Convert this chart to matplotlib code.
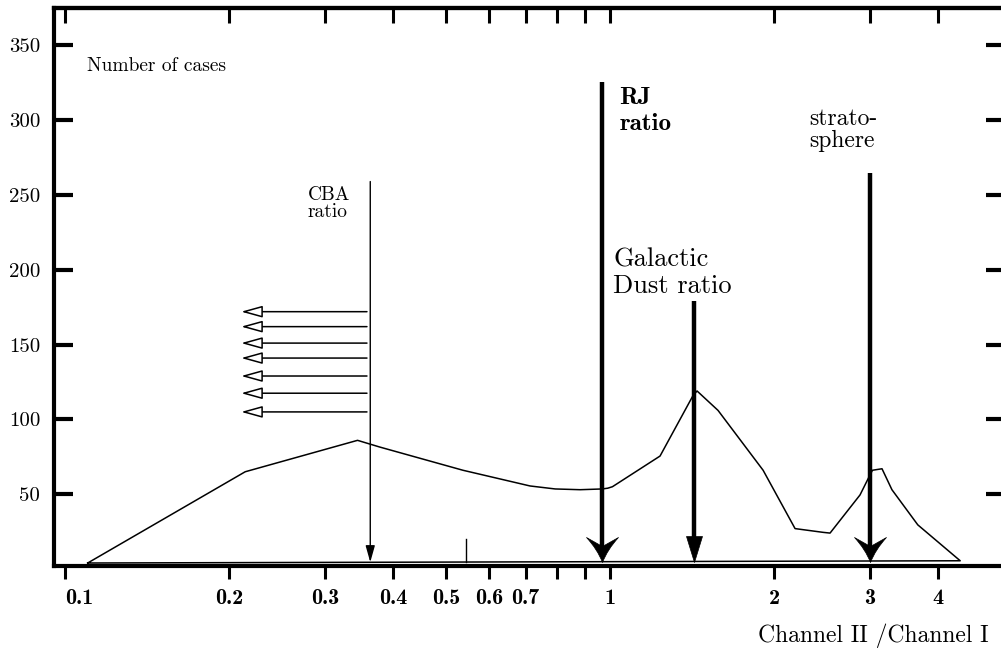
import matplotlib
matplotlib.use("Agg")
import matplotlib.pyplot as plt
from matplotlib.path import Path
from matplotlib.ticker import NullLocator

# Histogram of channel ratios (number of cases vs Channel II / Channel I)
ratio = [0.110, 0.214, 0.344, 0.378, 0.537, 0.713, 0.793, 0.881, 0.967, 0.99,
         1.01, 1.235, 1.42, 1.444, 1.578, 1.909, 2.185, 2.459, 2.533, 2.875,
         3.0, 3.03, 3.155, 3.29, 3.67, 4.39, 0.110]
cases = [4, 65, 86, 81.5, 66, 55.5, 53.5, 53, 53.5, 54,
         55, 75.5, 116, 119, 106, 66, 27, 24.5, 24, 49.5,
         63, 66, 67, 53, 29.5, 5.5, 4]

x_ticks = [0.1, 0.2, 0.3, 0.4, 0.5, 0.6, 0.7, 0.8, 0.9, 1, 2, 3, 4]
x_labels = ["0.1", "0.2", "0.3", "0.4", "0.5", "0.6", "0.7", "", "", "1", "2", "3", "4"]
y_ticks = [50, 100, 150, 200, 250, 300, 350]

# reference ratios marked with arrows: (x, top, tip)
cba = (0.363, 259, 4.5)
rj = (0.967, 325.5, 4.7)
galactic = (1.426, 179, 4.7)
strato = (3.0, 265, 5.0)

# CBA spread arrows pointing to lower ratios
spread_levels = [105, 117.5, 129, 141, 151, 162, 172]
spread_from, spread_to = 0.358, 0.2104

marker_x, marker_top, marker_bottom = 0.544, 20, 4.7

plt.rcParams["font.family"] = "cmr10"

fig = plt.figure(figsize=(10.01, 6.52), dpi=100)
ax = fig.add_axes([54 / 1001, 86 / 652, 951 / 1001, 558 / 652])

ax.plot(ratio, cases, color="black", lw=1.1)
ax.plot([marker_x, marker_x], [marker_bottom, marker_top], color="black", lw=1)

# thin CBA arrow
ax.annotate("", xy=(cba[0], cba[2]), xytext=(cba[0], cba[1]),
            arrowprops=dict(arrowstyle="-|>,head_length=1.0,head_width=0.28",
                            color="black", lw=1, shrinkA=0, shrinkB=0))

for lvl in spread_levels:
    ax.annotate("", xy=(spread_to, lvl), xytext=(spread_from, lvl),
                arrowprops=dict(arrowstyle="-|>,head_length=1.3,head_width=0.36",
                                facecolor="white", edgecolor="black", lw=1.1,
                                shrinkA=0, shrinkB=0))

# arrow heads: plain triangle for galactic dust, barbed for RJ and stratosphere
plain = Path([(0, 0), (-8, 26), (8, 26), (0, 0)],
             [Path.MOVETO, Path.LINETO, Path.LINETO, Path.CLOSEPOLY])
barb = Path([(0, 0), (-5, 13), (-16, 25), (0, 16), (16, 25), (5, 13), (0, 0), (0, 0)],
            [Path.MOVETO, Path.CURVE3, Path.CURVE3, Path.LINETO, Path.LINETO,
             Path.CURVE3, Path.CURVE3, Path.CLOSEPOLY])
for (x, top, tip), head, size in ((galactic, plain, 37.4), (rj, barb, 36), (strato, barb, 36)):
    ax.plot([x, x], [top, tip + 10], color="black", lw=3.2, solid_capstyle="butt")
    ax.plot([x], [tip], marker=head, markersize=size, color="black", mew=0.5)

ax.text(0.1097, 333, "Number of cases", fontsize=14, va="baseline")
ax.text(0.279, 256, "CBA\nratio", fontsize=14, va="top", linespacing=0.97)
ax.text(1.039, 322, "RJ\nratio", fontsize=18, family="cmb10", va="top", linespacing=1.2)
ax.text(1.013, 215, "Galactic\nDust ratio", fontsize=19, va="top", linespacing=1.15)
ax.text(2.317, 308, "strato-\nsphere", fontsize=17, va="top", linespacing=1.0)

ax.set_xscale("log")
ax.set_xlim(0.0954, 5.305)
ax.set_ylim(2, 375)
ax.set_xticks(x_ticks, x_labels, family="cmb10", fontsize=16)
ax.xaxis.set_minor_locator(NullLocator())
ax.get_xticklabels()[0].set_horizontalalignment("left")
ax.set_yticks(y_ticks, [str(v) for v in y_ticks], fontsize=15)

ax.tick_params(axis="x", direction="out", length=9.5, width=2.2, pad=7)
ax.tick_params(axis="y", direction="in", length=14, width=3, pad=10, left=True, right=True)
for s in ax.spines.values():
    s.set_linewidth(3)

top = ax.secondary_xaxis("top")
top.set_xticks(x_ticks, [""] * len(x_ticks))
top.xaxis.set_minor_locator(NullLocator())
top.tick_params(direction="in", length=11, width=2.2)
top.spines["top"].set_linewidth(3)

ax.set_xlabel("Channel II /Channel I", fontsize=17, ha="right", va="baseline")
ax.xaxis.set_label_coords(0.983, -0.136)

fig.savefig("out.png", dpi=100)
